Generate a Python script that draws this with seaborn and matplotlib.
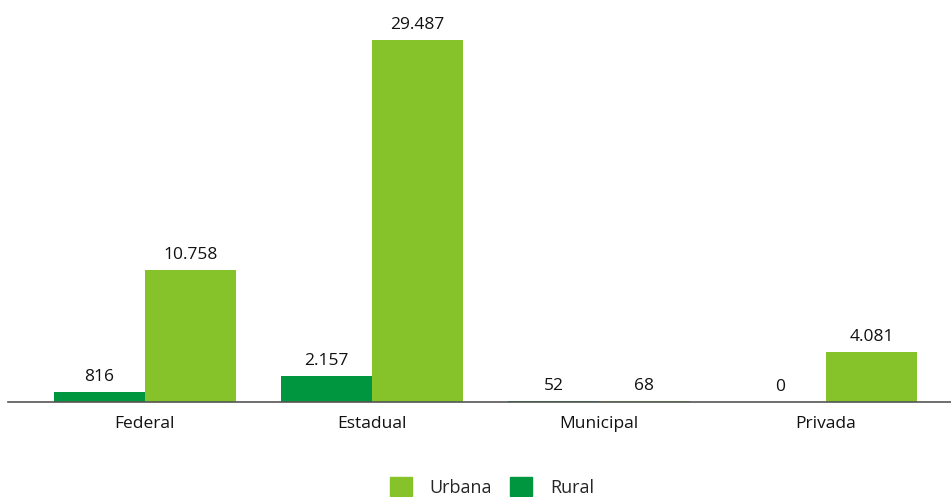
import pandas as pd
from matplotlib import pyplot as plt
from matplotlib.patches import Patch
import seaborn as sns

categorias = ["Federal", "Estadual", "Municipal", "Privada"]
rural = [816, 2157, 52, 0]
urbana = [10758, 29487, 68, 4081]
cores = {"Rural": "#00953f", "Urbana": "#86c22a"}


def fmt(v):
  return f"{int(v):,}".replace(",", ".")


def grafico():
  df = pd.DataFrame({
    "categoria": categorias * 2,
    "tipo": ["Rural"] * len(categorias) + ["Urbana"] * len(categorias),
    "valor": rural + urbana,
  })

  sns.set_style("white")
  plt.rcParams['font.family'] = ['Open Sans', 'DejaVu Sans']

  fig = plt.figure(figsize=(9.51, 4.97), dpi=100)
  ax = fig.add_axes([8 / 951, 95 / 497, 943 / 951, 402 / 497])
  sns.barplot(data=df, x="categoria", y="valor", hue="tipo",
              hue_order=["Rural", "Urbana"], palette=cores,
              width=0.8, saturation=1, errorbar=None, legend=False,
              linewidth=0, ax=ax)

  for cont in ax.containers:
    ax.bar_label(cont, labels=[fmt(v) for v in cont.datavalues],
                 padding=5, fontsize=12.5, color="#111111")

  ax.set_xlim(-0.5 - 23.5 / 227, 3.5 + 11.5 / 227)
  ax.set_ylim(0, 29487 * 402 / 362)
  ax.set_xlabel("")
  ax.set_ylabel("")
  ax.set_yticks([])
  ax.tick_params(axis="x", length=0, pad=10, labelsize=12.5, colors="#111111")
  for s in ["top", "right", "left"]:
    ax.spines[s].set_visible(False)
  ax.spines["bottom"].set_color("#555555")
  ax.spines["bottom"].set_linewidth(1.2)

  handles = [Patch(color=cores["Urbana"], label="Urbana"),
             Patch(color=cores["Rural"], label="Rural")]
  fig.legend(handles=handles, loc="center", bbox_to_anchor=(492 / 951, 1 - 487 / 497),
             ncol=2, frameon=False, fontsize=13, handlelength=1.2, handleheight=1.2,
             columnspacing=1.0, handletextpad=1.0)

  plt.savefig("out.png", dpi=100)


if __name__ == "__main__":
  grafico()
